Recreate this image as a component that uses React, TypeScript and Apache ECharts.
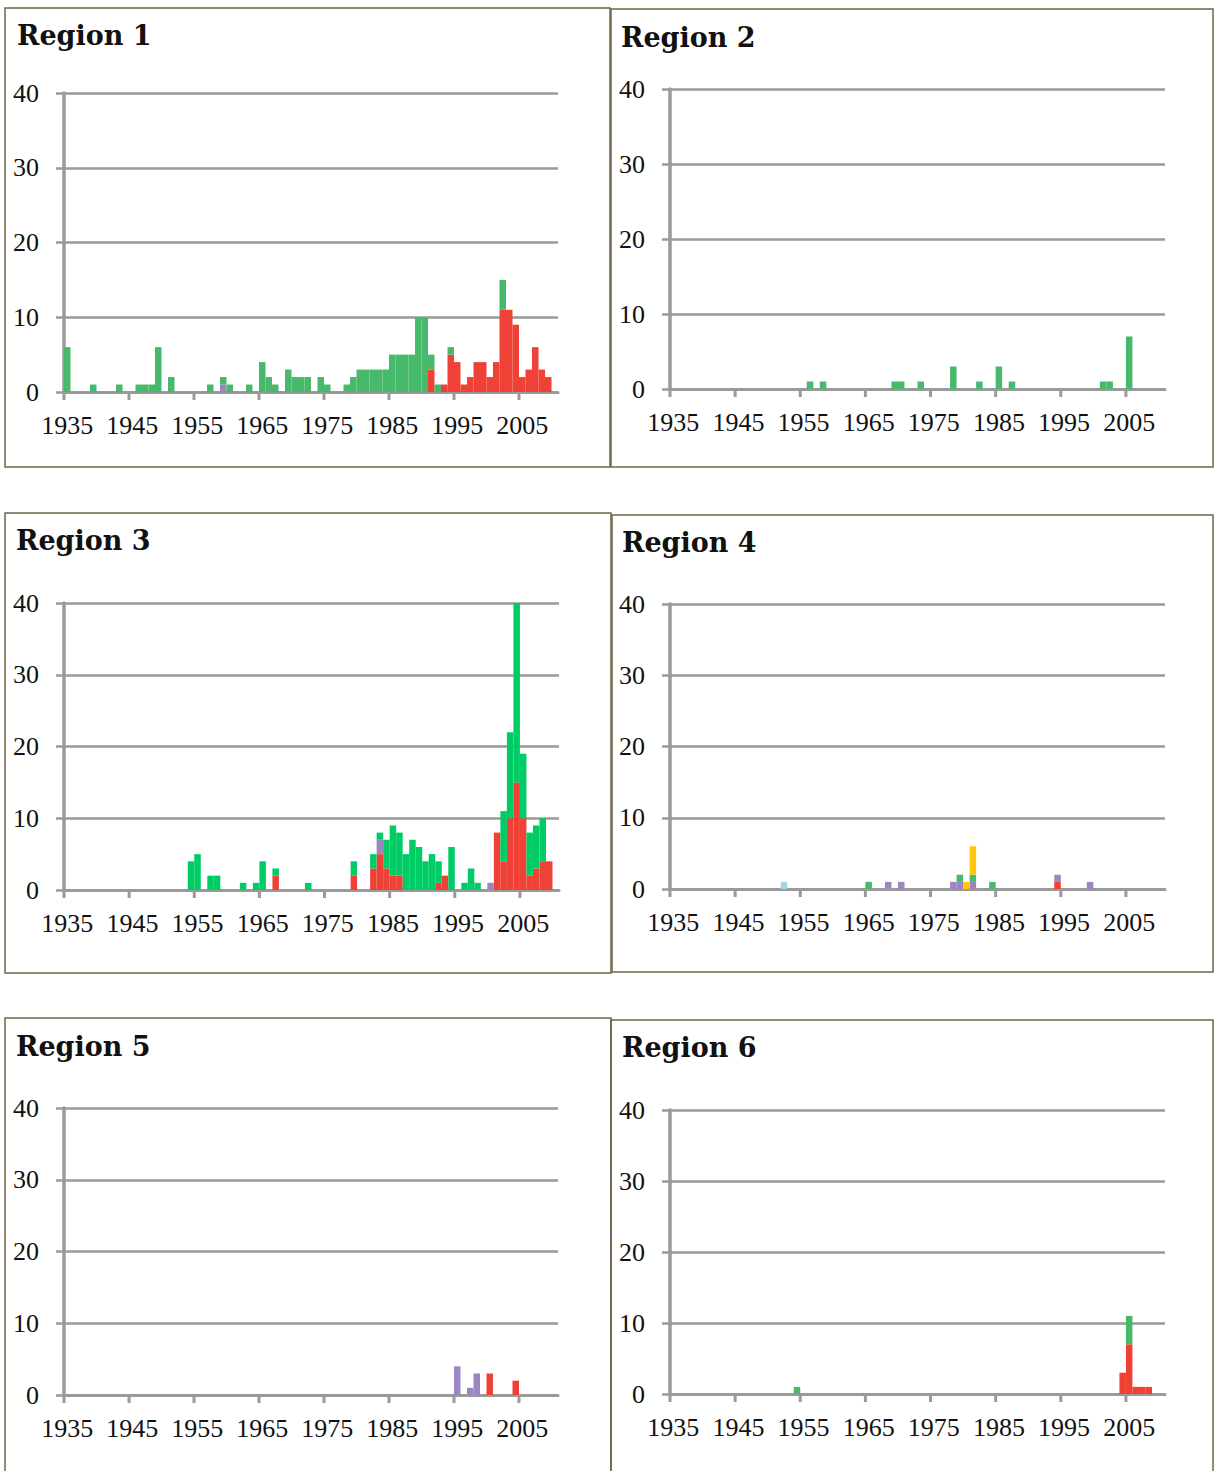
import React, { useEffect, useRef } from 'react';
import * as echarts from 'echarts';

// ---------- categories ----------
const YEARS: string[] = [
  '1935','1936','1937','1938','1939','1940','1941','1942','1943','1944',
  '1945','1946','1947','1948','1949','1950','1951','1952','1953','1954',
  '1955','1956','1957','1958','1959','1960','1961','1962','1963','1964',
  '1965','1966','1967','1968','1969','1970','1971','1972','1973','1974',
  '1975','1976','1977','1978','1979','1980','1981','1982','1983','1984',
  '1985','1986','1987','1988','1989','1990','1991','1992','1993','1994',
  '1995','1996','1997','1998','1999','2000','2001','2002','2003','2004',
  '2005','2006','2007','2008','2009','2010',
];
const Y_TICKS = [0, 10, 20, 30, 40];
const TITLES = ['Region 1', 'Region 2', 'Region 3', 'Region 4', 'Region 5', 'Region 6'];

// ---------- values: [year, count] ----------
const r1Red: [number, number][] = [
  [1991, 3], [1993, 1], [1994, 5], [1995, 4], [1996, 1], [1997, 2], [1998, 4], [1999, 4],
  [2000, 2], [2001, 4], [2002, 11], [2003, 11], [2004, 9], [2005, 2], [2006, 3], [2007, 6],
  [2008, 3], [2009, 2],
];
const r1Purple: [number, number][] = [[1959, 1]];
const r1Green: [number, number][] = [
  [1935, 6], [1939, 1], [1943, 1], [1946, 1], [1947, 1], [1948, 1], [1949, 6], [1951, 2],
  [1957, 1], [1959, 1], [1960, 1], [1963, 1], [1965, 4], [1966, 2], [1967, 1], [1969, 3],
  [1970, 2], [1971, 2], [1972, 2], [1974, 2], [1975, 1], [1978, 1], [1979, 2], [1980, 3],
  [1981, 3], [1982, 3], [1983, 3], [1984, 3], [1985, 5], [1986, 5], [1987, 5], [1988, 5],
  [1989, 10], [1990, 10], [1991, 2], [1992, 1], [1994, 1], [2002, 4],
];

const r2Green: [number, number][] = [
  [1956, 1], [1958, 1], [1969, 1], [1970, 1], [1973, 1], [1978, 3], [1982, 1], [1985, 3],
  [1987, 1], [2001, 1], [2002, 1], [2005, 7],
];

const r3Red: [number, number][] = [
  [1967, 2], [1979, 2], [1982, 3], [1983, 5], [1984, 3], [1985, 2], [1986, 2], [1992, 1],
  [1993, 2], [2001, 8], [2002, 4], [2003, 10], [2004, 15], [2005, 10], [2006, 2], [2007, 3],
  [2008, 4], [2009, 4],
];
const r3Purple: [number, number][] = [[1983, 2], [2000, 1]];
const r3Green: [number, number][] = [
  [1954, 4], [1955, 5], [1957, 2], [1958, 2], [1962, 1], [1964, 1], [1965, 4], [1967, 1],
  [1972, 1], [1979, 2], [1982, 2], [1983, 1], [1984, 4], [1985, 7], [1986, 6], [1987, 5],
  [1988, 7], [1989, 6], [1990, 4], [1991, 5], [1992, 3], [1994, 6], [1996, 1], [1997, 3],
  [1998, 1], [2002, 7], [2003, 12], [2004, 25], [2005, 9], [2006, 6], [2007, 6], [2008, 6],
];

const r4Red: [number, number][] = [[1994, 1]];
const r4Purple: [number, number][] = [
  [1968, 1], [1970, 1], [1978, 1], [1979, 1], [1981, 1], [1994, 1], [1999, 1],
];
const r4Green: [number, number][] = [[1965, 1], [1979, 1], [1981, 1], [1984, 1]];
const r4Yellow: [number, number][] = [[1980, 1], [1981, 4]];
const r4LightBlue: [number, number][] = [[1952, 1]];

const r5Red: [number, number][] = [[2000, 3], [2004, 2]];
const r5Purple: [number, number][] = [[1995, 4], [1997, 1], [1998, 3]];

const r6Red: [number, number][] = [[2004, 3], [2005, 7], [2006, 1], [2007, 1], [2008, 1]];
const r6Green: [number, number][] = [[1954, 1], [2005, 4]];

// ---------- styles / layout ----------
const C = {
  red: '#ef4136',
  purple: '#9b86c0',
  green: '#46b96a',
  brightGreen: '#00cc66',
  yellow: '#ffc60b',
  lightBlue: '#a5d5e6',
  axis: '#9a9a9a',
  border: '#6e6648',
};

type Layer = { pairs: [number, number][]; color: string };
const PANEL_LAYERS: Layer[][] = [
  [{ pairs: r1Red, color: C.red }, { pairs: r1Purple, color: C.purple }, { pairs: r1Green, color: C.green }],
  [{ pairs: r2Green, color: C.green }],
  [{ pairs: r3Red, color: C.red }, { pairs: r3Purple, color: C.purple }, { pairs: r3Green, color: C.brightGreen }],
  [
    { pairs: r4Red, color: C.red }, { pairs: r4Purple, color: C.purple }, { pairs: r4Green, color: C.green },
    { pairs: r4Yellow, color: C.yellow }, { pairs: r4LightBlue, color: C.lightBlue },
  ],
  [{ pairs: r5Red, color: C.red }, { pairs: r5Purple, color: C.purple }],
  [{ pairs: r6Red, color: C.red }, { pairs: r6Green, color: C.green }],
];

const GRIDS = [
  { left: 64, top: 93, width: 494, height: 299 },
  { left: 670, top: 89, width: 495, height: 300 },
  { left: 64, top: 603, width: 495, height: 287 },
  { left: 670, top: 604, width: 495, height: 285 },
  { left: 64, top: 1108, width: 494, height: 287 },
  { left: 670, top: 1110, width: 495, height: 284 },
];
const BOXES = [
  { x: 5, y: 8, width: 605, height: 459 },
  { x: 611, y: 9, width: 602, height: 458 },
  { x: 5, y: 513, width: 606, height: 460 },
  { x: 612, y: 515, width: 601, height: 457 },
  { x: 5, y: 1018, width: 606, height: 470 },
  { x: 611, y: 1020, width: 602, height: 470 },
];
const TITLE_POS = [
  [17, 35], [621, 37], [16, 540], [622, 542], [16, 1046], [622, 1047],
];

function toArray(pairs: [number, number][]): (number | null)[] {
  const arr: (number | null)[] = YEARS.map(() => null);
  pairs.forEach(([y, v]) => {
    const i = YEARS.indexOf(String(y));
    if (i >= 0) arr[i] = v;
  });
  return arr;
}

export default function App() {
  const ref = useRef<HTMLDivElement>(null);
  useEffect(() => {
    if (!ref.current) return;
    const chart = echarts.init(ref.current, null, { renderer: 'svg' });
    const labelFont = { fontFamily: 'Liberation Serif', fontSize: 26, color: '#111' };

    const series: any[] = [];
    PANEL_LAYERS.forEach((layers, k) => {
      layers.forEach((l, j) => {
        series.push({
          type: 'bar',
          name: `p${k}_${j}`,
          xAxisIndex: k,
          yAxisIndex: k,
          stack: `s${k}`,
          barCategoryGap: '0%',
          barGap: '0%',
          itemStyle: { color: l.color },
          data: toArray(l.pairs),
        });
      });
    });

    chart.setOption({
      animation: false,
      backgroundColor: '#ffffff',
      grid: GRIDS.map((g) => ({ ...g, containLabel: false })),
      xAxis: GRIDS.map((_, k) => ({
        type: 'category',
        gridIndex: k,
        data: YEARS,
        boundaryGap: true,
        axisLine: { show: true, lineStyle: { color: C.axis, width: 3 } },
        axisTick: { show: false },
        axisLabel: { ...labelFont, interval: 9, margin: 20 },
        splitLine: { show: false },
      })),
      yAxis: GRIDS.map((_, k) => ({
        type: 'value',
        gridIndex: k,
        min: Y_TICKS[0],
        max: Y_TICKS[Y_TICKS.length - 1],
        interval: 10,
        axisLine: { show: true, lineStyle: { color: C.axis, width: 3.5 } },
        axisTick: { show: true, length: 8, lineStyle: { color: C.axis, width: 2.5 } },
        axisLabel: { ...labelFont, margin: 25 },
        splitLine: { show: true, lineStyle: { color: C.axis, width: 2.5 } },
      })),
      series,
    });

    const graphics: any[] = [];
    BOXES.forEach((b, k) => {
      graphics.push({
        type: 'rect',
        id: `box${k}`,
        shape: { ...b },
        style: { fill: 'none', stroke: C.border, lineWidth: 1.5 },
        silent: true,
        z: 10,
      });
      graphics.push({
        type: 'text',
        id: `title${k}`,
        x: TITLE_POS[k][0],
        y: TITLE_POS[k][1],
        style: {
          text: TITLES[k],
          fontFamily: 'DejaVu Serif',
          fontWeight: 'bold',
          fontSize: 27,
          fill: '#111',
          align: 'left',
          verticalAlign: 'middle',
        },
        z: 10,
      });
    });
    // x-axis decade ticks at category boundaries
    GRIDS.forEach((_, k) => {
      const c0 = chart.convertToPixel({ xAxisIndex: k } as any, YEARS[0]) as unknown as number;
      const c1 = chart.convertToPixel({ xAxisIndex: k } as any, YEARS[1]) as unknown as number;
      const band = c1 - c0;
      const y0 = chart.convertToPixel({ yAxisIndex: k } as any, 0) as unknown as number;
      for (let i = 0; i < YEARS.length; i += 10) {
        const c = chart.convertToPixel({ xAxisIndex: k } as any, YEARS[i]) as unknown as number;
        const x = c - band / 2;
        graphics.push({
          type: 'line',
          id: `tick${k}_${i}`,
          shape: { x1: x, y1: y0, x2: x, y2: y0 + 8 },
          style: { stroke: C.axis, lineWidth: 3 },
          silent: true,
          z: 5,
        });
      }
    });
    chart.setOption({ graphic: graphics });

    return () => chart.dispose();
  }, []);

  return (
    <div
      ref={ref}
      style={{ position: 'absolute', left: 0, top: 0, width: 1214, height: 1471, background: '#fff' }}
    />
  );
}
